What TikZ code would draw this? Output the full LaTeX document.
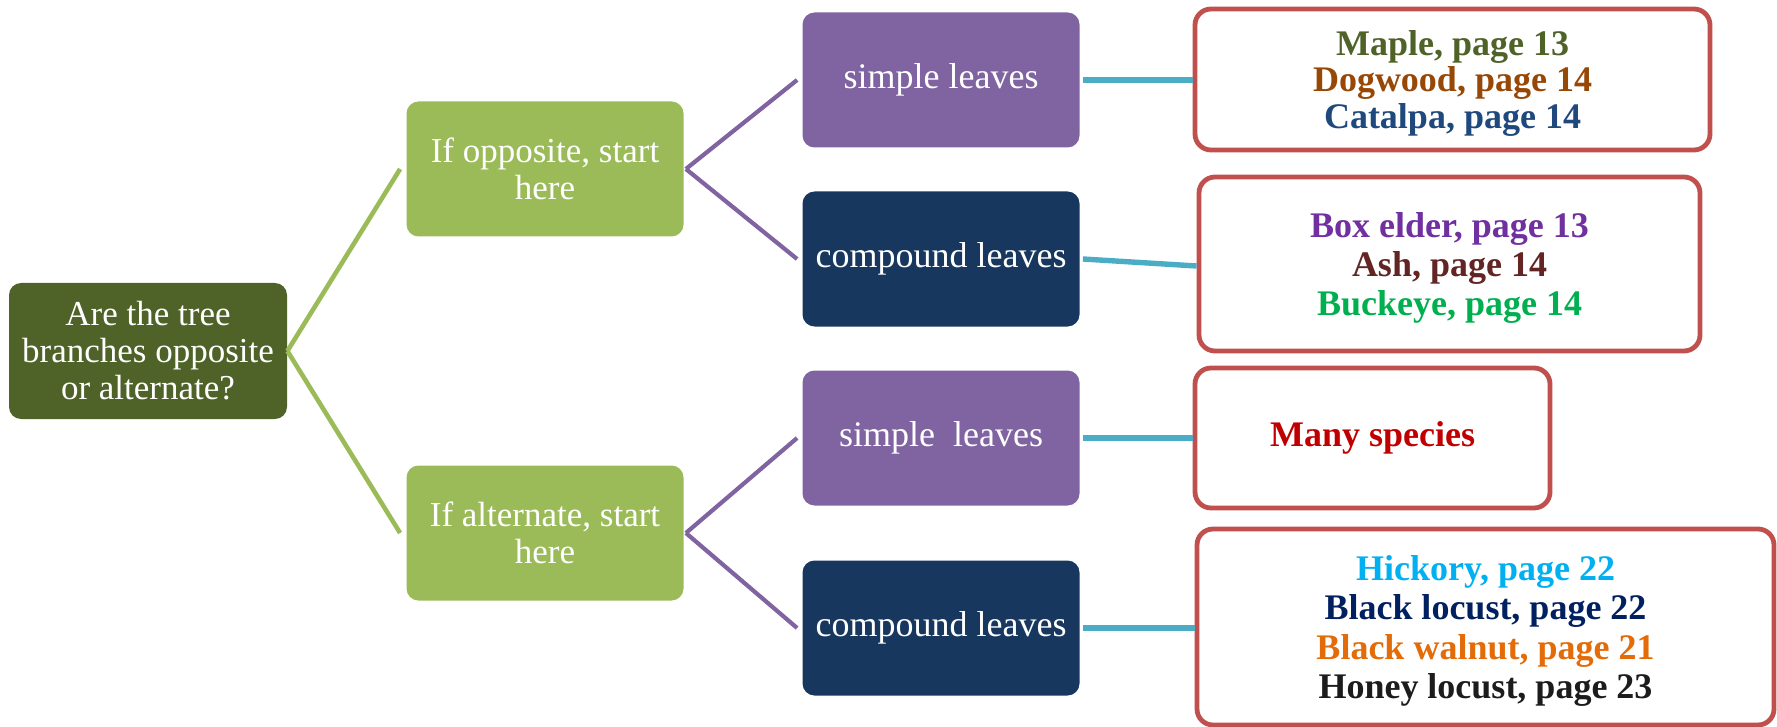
\documentclass[tikz,border=0pt]{standalone}
\usepackage{fontspec}
\setmainfont{Liberation Serif}
\definecolor{rootgreen}{HTML}{4F6228}
\definecolor{lightgreen}{HTML}{9BBB59}
\definecolor{purp}{HTML}{8064A2}
\definecolor{navy}{HTML}{17375E}
\definecolor{cyanline}{HTML}{4BACC6}
\definecolor{redborder}{HTML}{C0504D}
\definecolor{cMaple}{HTML}{4F6228}
\definecolor{cDogwood}{HTML}{974806}
\definecolor{cCatalpa}{HTML}{1F497D}
\definecolor{cBox}{HTML}{7030A0}
\definecolor{cAsh}{HTML}{632523}
\definecolor{cBuck}{HTML}{00B050}
\definecolor{cMany}{HTML}{C00000}
\definecolor{cHick}{HTML}{00B0F0}
\definecolor{cBlack}{HTML}{002060}
\definecolor{cWalnut}{HTML}{E36C09}
\definecolor{cHoney}{HTML}{1C1C1C}
\tikzset{
  basebox/.style={rounded corners=6pt, align=center, inner sep=2pt,
    font=\fontsize{17.5}{18.5}\selectfont, text=white},
  rootbox/.style={basebox, fill=rootgreen, minimum width=139pt, minimum height=68pt},
  midbox/.style={basebox, fill=lightgreen, minimum width=138.5pt, minimum height=67.5pt},
  simplebox/.style={basebox, fill=purp, minimum width=138.5pt, minimum height=67.5pt},
  compbox/.style={basebox, fill=navy, minimum width=138.5pt, minimum height=67.5pt},
  listbox/.style={rounded corners=8pt, draw=redborder, line width=2.4pt, fill=white,
    align=center, text depth=0pt, font=\fontsize{18}{19.7}\selectfont\bfseries},
  gline/.style={draw=lightgreen, line width=2.3pt},
  pline/.style={draw=purp, line width=2.1pt},
  cline/.style={draw=cyanline, line width=2.7pt},
}
\begin{document}
\begin{tikzpicture}[x=0.5pt,y=-0.5pt]
\useasboundingbox (0,0) rectangle (1777,727);
\node[rootbox] (root) at (148,351) {Are the tree\\branches opposite\\or alternate?};
\node[midbox] (opp) at (545,169) {If opposite, start\\here};
\node[midbox] (alt) at (545,533) {If alternate, start\\here};
\node[simplebox, font=\fontsize{18}{18.5}\selectfont] (s1) at (941,80) {simple leaves};
\node[compbox, font=\fontsize{18}{18.5}\selectfont] (c1) at (941,259) {compound leaves};
\node[simplebox, font=\fontsize{18}{18.5}\selectfont] (s2) at (941,438) {simple\ \ leaves};
\node[compbox, font=\fontsize{18}{18.5}\selectfont] (c2) at (941,628) {compound leaves};
\node[listbox, minimum width=257.5pt, minimum height=70.5pt, font=\fontsize{18}{18.4}\selectfont\bfseries] (b1) at (1452.5,79.5)
  {\textcolor{cMaple}{Maple, page 13}\\\textcolor{cDogwood}{Dogwood, page 14}\\\textcolor{cCatalpa}{Catalpa, page 14}};
\node[listbox, minimum width=250.5pt, minimum height=87pt] (b2) at (1449.5,264)
  {\textcolor{cBox}{Box elder, page 13}\\\textcolor{cAsh}{Ash, page 14}\\\textcolor{cBuck}{Buckeye, page 14}};
\node[listbox, minimum width=177.5pt, minimum height=70pt] (b3) at (1372.5,438) {};
\node[text=cMany, font=\fontsize{18}{19.7}\selectfont\bfseries] (many) at (b3.center) {Many species};
\node[listbox, minimum width=288.5pt, minimum height=98pt] (b4) at (1485.5,627)
  {\textcolor{cHick}{Hickory, page 22}\\\textcolor{cBlack}{Black locust, page 22}\\\textcolor{cWalnut}{Black walnut, page 21}\\\textcolor{cHoney}{Honey locust, page 23}};
\draw[gline] (root.east) -- ([xshift=-3pt]opp.west);
\draw[gline] (root.east) -- ([xshift=-3pt]alt.west);
\draw[pline] ([xshift=1pt]opp.east) -- ([xshift=-2.5pt]s1.west);
\draw[pline] ([xshift=1pt]opp.east) -- ([xshift=-2.5pt]c1.west);
\draw[pline] ([xshift=1pt]alt.east) -- ([xshift=-2.5pt]s2.west);
\draw[pline] ([xshift=1pt]alt.east) -- ([xshift=-2.5pt]c2.west);
\draw[cline] ([xshift=1.5pt]s1.east) -- (s1.east -| b1.west);
\draw[cline] ([xshift=1.5pt]c1.east) -- ([yshift=-3.5pt]c1.east -| b2.west);
\draw[cline] ([xshift=1.5pt]s2.east) -- (s2.east -| b3.west);
\draw[cline] ([xshift=1.5pt]c2.east) -- (c2.east -| b4.west);
\end{tikzpicture}
\end{document}
